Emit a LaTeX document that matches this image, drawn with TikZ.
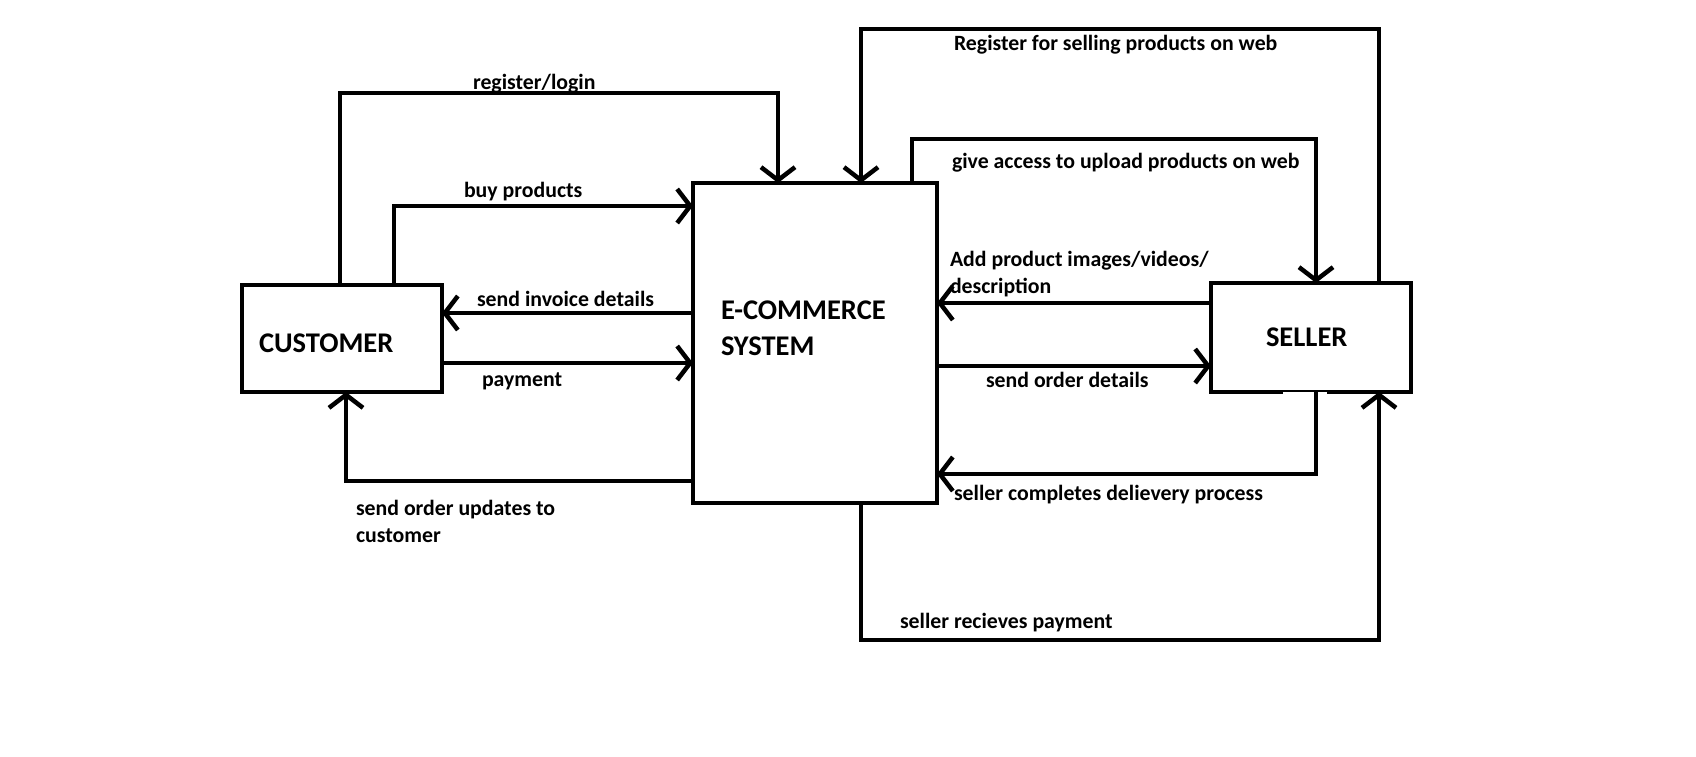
\documentclass[tikz,border=0pt]{standalone}
\usepackage{fontspec}
\setmainfont{Carlito}
\usetikzlibrary{arrows.meta}
\begin{document}
\begin{tikzpicture}[x=1pt,y=-1pt,
  box/.style={draw,line width=4.5pt,inner sep=0pt,outer sep=0pt},
  flow/.style={line width=4.5pt,-{Straight Barb[length=13pt,width=34pt,line width=4.5pt]}},
  lbl/.style={inner sep=0pt,outer sep=0pt,anchor=base west,font=\fontsize{21.8}{27}\selectfont\bfseries,align=left},
  big/.style={inner sep=0pt,outer sep=0pt,anchor=base west,font=\fontsize{28.5}{36}\selectfont\bfseries,align=left}]
\useasboundingbox[fill=white] (0,0) rectangle (1696,756);
% boxes
\node[box,minimum width=200pt,minimum height=107pt] (cust) at (342,338.5) {};
\node[box,minimum width=244pt,minimum height=320pt] (ecom) at (815,343) {};
\node[box,minimum width=200pt,minimum height=109pt] (seller) at (1311,337.5) {};
\fill[white] (1283,392.3) rectangle (1327,394.5);
% box texts
\node[big] (custtxt) at (259,352) {CUSTOMER};
\node[big] (ecomtxt) at (721,355) {E-COMMERCE\\SYSTEM};
\node[big] (sellertxt) at (1266,346) {SELLER};
% labels
\node[lbl] (l1) at (473,89) {register/login};
\node[lbl] (l2) at (464,197) {buy products};
\node[lbl] (l3) at (477,306) {send invoice details};
\node[lbl] (l4) at (482,386) {payment};
\node[lbl] (l5) at (356,542) {send order updates to\\customer};
\node[lbl] (l6) at (954,50) {Register for selling products on web};
\node[lbl] (l7) at (952,168) {give access to upload products on web};
\node[lbl] (l8) at (950,293) {Add product images/videos/\\description};
\node[lbl] (l9) at (986,387) {send order details};
\node[lbl] (l10) at (954,500) {seller completes delievery process};
\node[lbl] (l11) at (900,628) {seller recieves payment};
% bend coordinates
\coordinate (r1) at (340,93);
\coordinate (r2) at (778,93);
\coordinate (b1) at (394,206);
\coordinate (i1) at (560,313);
\coordinate (p1) at (560,363);
\coordinate (u1) at (346,481);
\coordinate (s1) at (1379,29);
\coordinate (s2) at (861,29);
\coordinate (g1) at (912,139);
\coordinate (g2) at (1316,139);
\coordinate (a1) at (1050,303);
\coordinate (o1) at (1050,366);
\coordinate (c1) at (1316,474);
\coordinate (v1) at (861,640);
\coordinate (v2) at (1379,640);
% connectors
\draw[flow] (cust.north -| r1) -- (r1) -- (r2) -- (ecom.north -| r2);
\draw[flow] (cust.north -| b1) -- (b1) -- (ecom.west |- b1);
\draw[flow] (ecom.west |- i1) -- (cust.east |- i1);
\draw[flow] (cust.east |- p1) -- (ecom.west |- p1);
\draw[flow] (ecom.west |- u1) -- (u1) -- (cust.south -| u1);
\draw[flow] (seller.north -| s1) -- (s1) -- (s2) -- (ecom.north -| s2);
\draw[flow] (ecom.north -| g1) -- (g1) -- (g2) -- (seller.north -| g2);
\draw[flow] (seller.west |- a1) -- (ecom.east |- a1);
\draw[flow] (ecom.east |- o1) -- (seller.west |- o1);
\draw[flow] (seller.south -| c1) -- (c1) -- (ecom.east |- c1);
\draw[flow] (ecom.south -| v1) -- (v1) -- (v2) -- (seller.south -| v2);
\end{tikzpicture}
\end{document}
